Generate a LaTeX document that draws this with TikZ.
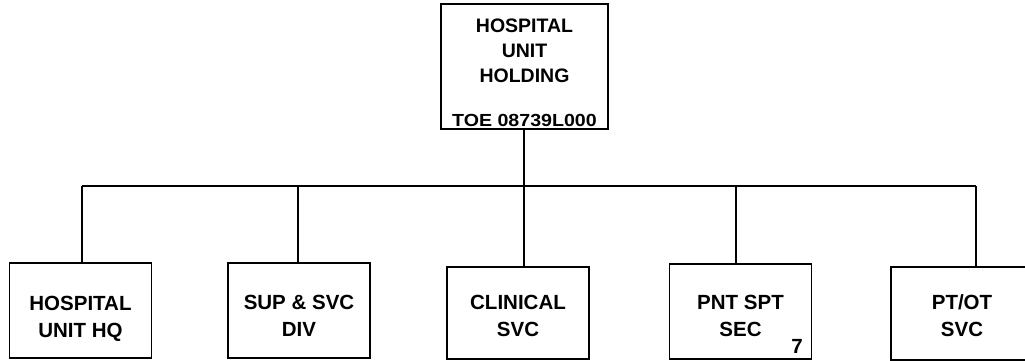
\documentclass[tikz,border=0pt]{standalone}
\usepackage{fontspec}
\setmainfont{Liberation Sans}
\begin{document}
\begin{tikzpicture}[x=1pt,y=-1pt,
  line width=1.8pt,
  orgbox/.style={draw=black, rectangle, inner sep=0pt, minimum width=142pt, minimum height=95pt},
  toptext/.style={font=\bfseries\fontsize{19.5}{25}\selectfont, align=center, inner sep=0pt, anchor=base},
  boxtext/.style={font=\bfseries\fontsize{20.5}{26.5}\selectfont, align=center, inner sep=0pt, anchor=base},
  conn/.style={draw=black, line width=1.8pt}]
\useasboundingbox (0,0) rectangle (1025,360);
% top box
\node[orgbox, minimum width=167pt, minimum height=125pt] (top) at (524.5,66.5) {};
\node[toptext] (toplbl) at (524.5,82) {HOSPITAL\\UNIT\\HOLDING};
\node[font=\bfseries\fontsize{17.5}{20}\selectfont, inner sep=0pt, anchor=base] (toe) at (524.5,126) {\scalebox{1.12}[1]{TOE 08739L000}};
% bottom boxes
\node[orgbox] (b1) at (80.5,310.5) {};
\node[orgbox] (b2) at (299,310.5) {};
\node[orgbox, minimum height=92pt] (b3) at (518,313) {};
\node[orgbox, minimum height=95pt] (b4) at (740.5,311.5) {};
\node[orgbox, minimum height=93pt] (b5) at (962,313.5) {};
\node[boxtext] (t1) at (80.5,337) {HOSPITAL\\UNIT HQ};
\node[boxtext] (t2) at (299,336) {SUP \& SVC\\DIV};
\node[boxtext] (t3) at (518,336) {CLINICAL\\SVC};
\node[boxtext] (t4) at (740.5,336) {PNT SPT\\SEC};
\node[boxtext] (t5) at (962,336) {PT/OT\\SVC};
\node[boxtext] (seven) at (797,353) {7};
% bus
\coordinate (bus) at (524,186);
\coordinate (j1) at (82,186);
\coordinate (j2) at (298,186);
\coordinate (j3) at (524,186);
\coordinate (j4) at (736,186);
\coordinate (j5) at (976,186);
\draw[conn] (top.south -| bus) -- (bus);
\draw[conn] (j1) -- (j5);
\draw[conn] (j1) -- (j1 |- b1.north);
\draw[conn] (j2) -- (j2 |- b2.north);
\draw[conn] (j3) -- (j3 |- b3.north);
\draw[conn] (j4) -- (j4 |- b4.north);
\draw[conn] (j5) -- (j5 |- b5.north);
\end{tikzpicture}
\end{document}
